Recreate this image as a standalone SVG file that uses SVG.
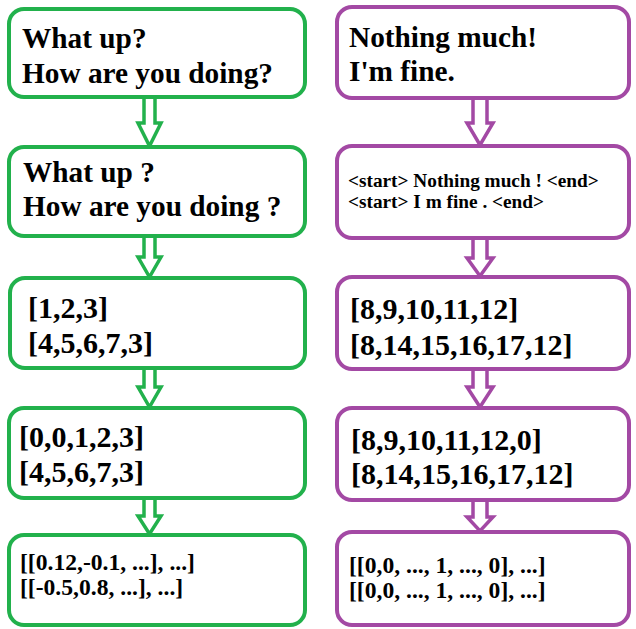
<svg xmlns="http://www.w3.org/2000/svg" width="636" height="629" viewBox="0 0 636 629">
<style>
  .g{fill:#fff;stroke:#22b14c;stroke-width:4}
  .p{fill:#fff;stroke:#a349a4;stroke-width:4}
  .ga{fill:#fff;stroke:#22b14c;stroke-width:3.5}
  .pa{fill:#fff;stroke:#a349a4;stroke-width:3.5}
  text{font-family:"Liberation Serif","Times New Roman",serif;font-weight:bold;fill:#000}
  .w{font-size:29.3px}
  .n{font-size:30px}
  .s{font-size:19.3px}
  .m{font-size:23.6px}
</style>
<rect width="636" height="629" fill="#fff"/>
<g id="connectors">
  <path class="ga" d="M144,97 V123 H138 L149.5,146 L161,123 H155 V97"/>
  <path class="ga" d="M144,236 V257 H138 L149.5,277 L161,257 H155 V236"/>
  <path class="ga" d="M144,368 V387 H138 L149.5,407 L161,387 H155 V368"/>
  <path class="ga" d="M144,498 V516 H138 L149.5,534 L161,516 H155 V498"/>
  <path class="pa" d="M473,98 V123 H467 L480,145 L493,123 H487 V98"/>
  <path class="pa" d="M473,238 V258 H467 L480,276 L493,258 H487 V238"/>
  <path class="pa" d="M473,369 V387 H467 L480,407 L493,387 H487 V369"/>
  <path class="pa" d="M473,500 V517 H467 L480,531 L493,517 H487 V500"/>
</g>
<g id="l1"><rect class="g" x="9" y="9" width="296" height="88" rx="15"/>
  <text class="w" x="22" y="48">What up?</text><text class="w" x="22" y="83">How are you doing?</text></g>
<g id="l2"><rect class="g" x="9" y="147" width="296" height="89" rx="15"/>
  <text class="w" x="23" y="182">What up ?</text><text class="w" x="23" y="216">How are you doing ?</text></g>
<g id="l3"><rect class="g" x="10" y="278" width="295" height="90" rx="15"/>
  <text class="n" x="28" y="318">[1,2,3]</text><text class="n" x="28" y="353">[4,5,6,7,3]</text></g>
<g id="l4"><rect class="g" x="9" y="408" width="296" height="90" rx="15"/>
  <text class="n" x="19" y="447">[0,0,1,2,3]</text><text class="n" x="19" y="482">[4,5,6,7,3]</text></g>
<g id="l5"><rect class="g" x="9" y="535" width="296" height="90" rx="15"/>
  <text class="m" x="20" y="570">[[0.12,-0.1, ...], ...]</text><text class="m" x="20" y="595">[[-0.5,0.8, ...], ...]</text></g>
<g id="r1"><rect class="p" x="337" y="7" width="292" height="91" rx="15"/>
  <text class="w" x="349" y="47">Nothing much!</text><text class="w" x="349" y="81">I'm fine.</text></g>
<g id="r2"><rect class="p" x="337" y="146" width="292" height="92" rx="15"/>
  <text class="s" x="348" y="187">&lt;start&gt; Nothing much ! &lt;end&gt;</text><text class="s" x="348" y="208">&lt;start&gt; I m fine . &lt;end&gt;</text></g>
<g id="r3"><rect class="p" x="337" y="277" width="292" height="92" rx="15"/>
  <text class="n" x="350" y="319">[8,9,10,11,12]</text><text class="n" x="350" y="355">[8,14,15,16,17,12]</text></g>
<g id="r4"><rect class="p" x="337" y="408" width="292" height="92" rx="15"/>
  <text class="n" x="351" y="450">[8,9,10,11,12,0]</text><text class="n" x="351" y="484">[8,14,15,16,17,12]</text></g>
<g id="r5"><rect class="p" x="337" y="532" width="292" height="93" rx="15"/>
  <text class="m" x="349" y="573">[[0,0, ..., 1, ..., 0], ...]</text><text class="m" x="349" y="598">[[0,0, ..., 1, ..., 0], ...]</text></g>
</svg>
